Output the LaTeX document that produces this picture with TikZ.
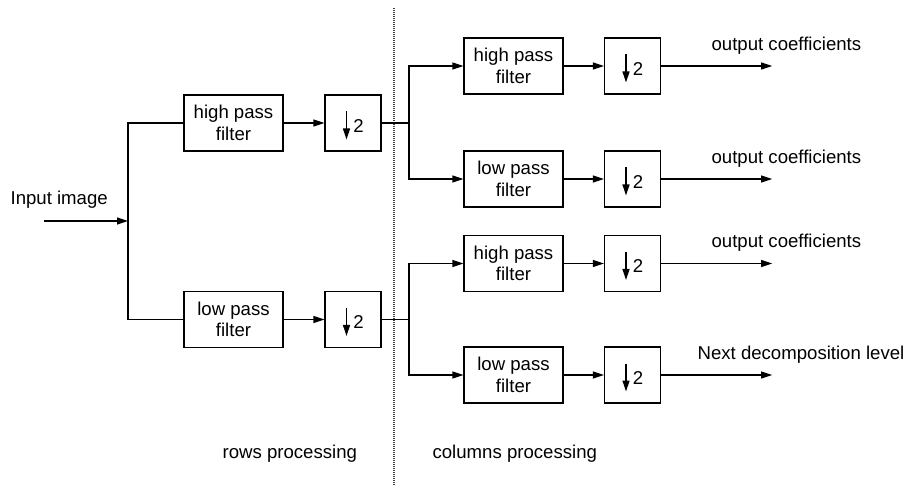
\documentclass[tikz,border=0pt]{standalone}
\usepackage{fontspec}
\setmainfont{Liberation Sans}
\usetikzlibrary{arrows.meta,calc}
\begin{document}
\begin{tikzpicture}[x=1pt,y=-1pt,
  line width=1.2pt,
  every node/.style={font=\fontsize{18.6}{21.7}\selectfont},
  filt/.style={draw, minimum width=99pt, minimum height=56pt, inner sep=0pt, align=center},
  down/.style={draw, minimum width=56pt, minimum height=56pt, inner sep=0pt},
  sig/.style={-{Triangle[length=11pt,width=7pt]}},
  lbl/.style={anchor=base west, inner sep=0pt},
  sep/.style={line width=1.2pt, black!75, dash pattern=on 1.2pt off 0.8pt}
]
\useasboundingbox (0,0) rectangle (905,486);

% decimation box: frame, down arrow and factor 2
\newcommand{\decim}[3]{%
  \node[down] (#1) at (#2,#3) {};
  \coordinate (#1a) at ($(#1.center)+(-6.5,-11.5)$);
  \coordinate (#1b) at ($(#1.center)+(-6.5,16.5)$);
  \draw[sig, line width=1.3pt] (#1a) -- (#1b);
  \node[inner sep=0pt] (#1n) at ($(#1.center)+(5.5,3)$) {2};
}

% separator between the two stages
\coordinate (septop) at (394,8);
\coordinate (sepbot) at (394,486);
\draw[sep] (septop) -- (sepbot);

% rows stage
\node[filt] (rh) at (233.5,123) {high pass\\filter};
\node[filt] (rl) at (233.5,319.5) {low pass\\filter};
\decim{rdh}{353}{123}
\decim{rdl}{353}{319.5}

% columns stage
\node[filt] (c1) at (513.5,66) {high pass\\filter};
\node[filt] (c2) at (513.5,179) {low pass\\filter};
\node[filt] (c3) at (513.5,263.5) {high pass\\filter};
\node[filt] (c4) at (513.5,375) {low pass\\filter};
\decim{d1}{632.5}{66}
\decim{d2}{632.5}{179}
\decim{d3}{632.5}{263.5}
\decim{d4}{632.5}{375}

% input and row split
\coordinate (in) at (44,221);
\coordinate (sp) at (128,221);
\node[lbl] (inlbl) at (10,205) {Input image};
\draw[sig] (in) -- (sp);
\draw (rh.west) -| (sp) |- (rl.west);
\draw[sig] (rh) -- (rdh);
\draw[sig] (rl) -- (rdl);

% column splits
\coordinate (s1) at (409,123);
\coordinate (s2) at (409,319.5);
\draw (rdh.east) -- (s1);
\draw (rdl.east) -- (s2);
\draw[sig] (s1) |- (c1.west);
\draw[sig] (s1) |- (c2.west);
\draw[sig] (s2) |- (c3.west);
\draw[sig] (s2) |- (c4.west);

% filters to decimators to outputs
\foreach \i in {1,2,3,4} {
  \draw[sig] (c\i) -- (d\i);
  \coordinate (o\i) at ($(d\i.east)+(111,0)$);
  \draw[sig] (d\i.east) -- (o\i);
}
\node[lbl] (l1) at (711,50.5) {output coefficients};
\node[lbl] (l2) at (711,163.5) {output coefficients};
\node[lbl] (l3) at (711,248) {output coefficients};
\node[lbl] (l4) at (697,359.5) {Next decomposition level};

% stage captions
\node[lbl] (rows) at (222,458) {rows processing};
\node[lbl] (cols) at (432,458) {columns processing};
\end{tikzpicture}
\end{document}
